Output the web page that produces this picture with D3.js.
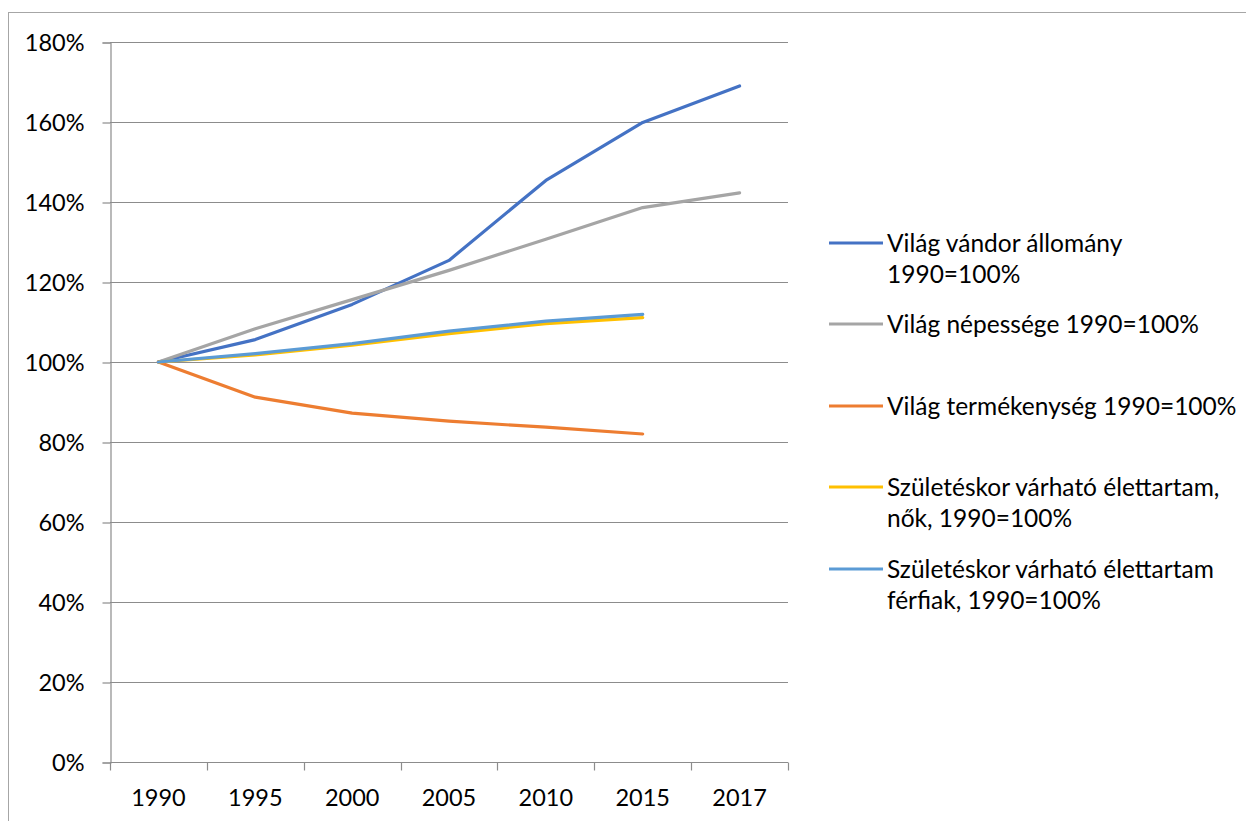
<!DOCTYPE html>
<html>
<head>
<meta charset="utf-8">
<script src="https://cdn.jsdelivr.net/npm/d3@7"></script>
<style>
  body { margin: 0; background: #fff; }
  text { font-family: Lato, "Open Sans", sans-serif; fill: #000; }
</style>
</head>
<body>
<div id="chart"></div>
<script>
// data
const years = ["1990", "1995", "2000", "2005", "2010", "2015", "2017"]
const yTicks = [0, 20, 40, 60, 80, 100, 120, 140, 160, 180]

const migrants = [100, 105.6, 114.4, 125.4, 145.4, 159.9, 169]
const population = [100, 108.3, 115.6, 122.9, 130.7, 138.6, 142.3]
const fertility = [100, 91.2, 87.2, 85.2, 83.7, 82]
const lifeWomen = [100, 101.8, 104.2, 107.1, 109.6, 111.1]
const lifeMen = [100, 102.1, 104.6, 107.7, 110.2, 111.9]

const seriesNames = [
  ["Világ vándor állomány", "1990=100%"],
  ["Világ népessége 1990=100%"],
  ["Világ termékenység 1990=100%"],
  ["Születéskor várható élettartam,", "nők, 1990=100%"],
  ["Születéskor várható élettartam", "férfiak, 1990=100%"]
]
const seriesValues = [migrants, population, fertility, lifeWomen, lifeMen]
const colors = ["#4472C4", "#A5A5A5", "#ED7D31", "#FFC000", "#5B9BD5"]

const width = 1246, height = 821
const plot = { left: 110, right: 788, top: 42, bottom: 762 }

const svg = d3.select("#chart").append("svg")
    .attr("width", width)
    .attr("height", height)

// outer chart frame
svg.append("rect")
    .attr("x", 8.5).attr("y", 12.5)
    .attr("width", 1400).attr("height", 1000)
    .attr("fill", "none")
    .attr("stroke", "#a6a6a6")

const x = d3.scaleBand().domain(years).range([plot.left, plot.right])
const y = d3.scaleLinear().domain([0, 180]).range([plot.bottom, plot.top])

// gridlines
svg.append("g").selectAll("line")
    .data(yTicks.filter(d => d > 0))
  .enter().append("line")
    .attr("x1", plot.left).attr("x2", plot.right)
    .attr("y1", d => Math.round(y(d)) + 0.5)
    .attr("y2", d => Math.round(y(d)) + 0.5)
    .attr("stroke", "#8c8c8c")
    .attr("stroke-width", 1.2)

// y axis
const yAxis = svg.append("g")
    .attr("transform", "translate(" + (plot.left + 0.5) + ",0.5)")
    .call(d3.axisLeft(y).tickValues(yTicks).tickSize(8).tickPadding(18)
      .tickFormat(d => d + "%"))
yAxis.select(".domain").attr("stroke", "#8c8c8c").attr("stroke-width", 1.2)
yAxis.selectAll(".tick line").attr("stroke", "#8c8c8c").attr("stroke-width", 1.2)
yAxis.selectAll("text").style("font-size", "23.5px").attr("dy", "0.35em")

// x axis, ticks between categories
const xAxis = svg.append("g")
    .attr("transform", "translate(0," + (plot.bottom + 0.5) + ")")
xAxis.append("line")
    .attr("x1", plot.left).attr("x2", plot.right)
    .attr("stroke", "#8c8c8c").attr("stroke-width", 1.2)
xAxis.selectAll("line.tk")
    .data(years.map(d => x(d)).concat([plot.right]))
  .enter().append("line")
    .attr("class", "tk")
    .attr("x1", d => Math.round(d) + 0.5).attr("x2", d => Math.round(d) + 0.5)
    .attr("y1", 0).attr("y2", 8)
    .attr("stroke", "#8c8c8c").attr("stroke-width", 1.2)
xAxis.selectAll("text")
    .data(years)
  .enter().append("text")
    .attr("x", d => x(d) + x.bandwidth() / 2)
    .attr("y", 43)
    .attr("text-anchor", "middle")
    .style("font-size", "23.5px")
    .text(d => d)

// lines
const line = d3.line()
    .x((d, i) => x(years[i]) + x.bandwidth() / 2)
    .y(d => y(d))

svg.append("g").selectAll("path")
    .data(seriesValues)
  .enter().append("path")
    .attr("d", line)
    .attr("fill", "none")
    .attr("stroke", (d, i) => colors[i])
    .attr("stroke-width", 3.2)
    .attr("stroke-linejoin", "round")
    .attr("stroke-linecap", "round")

// legend
const legendY = [243, 324, 406, 487, 569]
const legend = svg.append("g").selectAll("g")
    .data(seriesNames)
  .enter().append("g")
    .attr("transform", (d, i) => "translate(0," + legendY[i] + ")")

legend.append("line")
    .attr("x1", 829).attr("x2", 883)
    .attr("stroke", (d, i) => colors[i])
    .attr("stroke-width", 3.2)

legend.each(function(d) {
  const g = d3.select(this)
  d.forEach((t, k) => {
    g.append("text")
        .attr("x", 887)
        .attr("y", k * 31)
        .attr("dy", "0.35em")
        .style("font-size", "24.5px")
        .text(t)
  })
})
</script>
</body>
</html>
